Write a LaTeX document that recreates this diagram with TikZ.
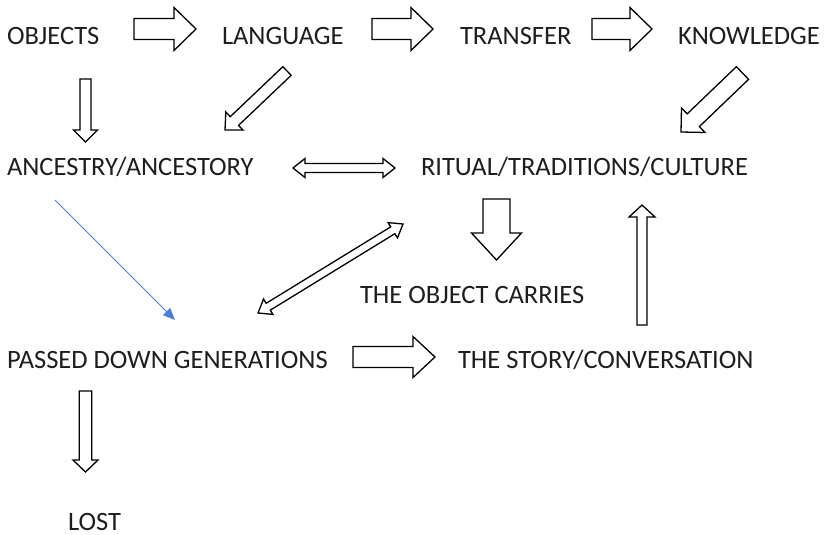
\documentclass[tikz,border=0pt]{standalone}
\usepackage{fontspec}
\setmainfont{Carlito}
\usetikzlibrary{calc,arrows.meta}
\definecolor{txt}{HTML}{1E1E1E}
\definecolor{lineblue}{HTML}{4A7ED6}
\newcommand{\blkarrow}[5]{% tail, tip, shaft half width, head half width, head length
  \coordinate (hb) at ($(#2)!#5!(#1)$);
  \draw[blk] ($(#1)!#3!90:(#2)$) -- ($(hb)!#3!90:(#2)$) -- ($(hb)!#4!90:(#2)$) -- (#2)
    -- ($(hb)!#4!-90:(#2)$) -- ($(hb)!#3!-90:(#2)$) -- ($(#1)!#3!-90:(#2)$) -- cycle;}
\newcommand{\dblarrow}[5]{% end, end, shaft half width, head half width, head length
  \coordinate (ha) at ($(#1)!#5!(#2)$);
  \coordinate (hb) at ($(#2)!#5!(#1)$);
  \draw[blk] (#1) -- ($(ha)!#4!90:(#2)$) -- ($(ha)!#3!90:(#2)$) -- ($(hb)!#3!90:(#2)$)
    -- ($(hb)!#4!90:(#2)$) -- (#2) -- ($(hb)!#4!-90:(#2)$) -- ($(hb)!#3!-90:(#2)$)
    -- ($(ha)!#3!-90:(#2)$) -- ($(ha)!#4!-90:(#2)$) -- cycle;}
\begin{document}
\begin{tikzpicture}[x=1pt,y=-1pt,
  lbl/.style={anchor=base west,inner sep=0pt,outer sep=0pt,text=txt,font=\fontsize{26.5}{31}\selectfont},
  blk/.style={draw=black,line width=1.3pt,line join=miter,fill=white},
  bluearrow/.style={draw=lineblue,line width=0.9pt,-{Triangle[length=12pt,width=10pt]}}]
\useasboundingbox (0,0) rectangle (824,535);
% labels
\node[lbl] (objects) at (7,45) {OBJECTS};
\node[lbl] (language) at (222,45) {LANGUAGE};
\node[lbl] (transfer) at (460,45) {TRANSFER};
\node[lbl] (knowledge) at (678,45) {KNOWLEDGE};
\node[lbl] (ancestry) at (7,175) {ANCESTRY/ANCESTORY};
\node[lbl] (ritual) at (421,175) {RITUAL/TRADITIONS/CULTURE};
\node[lbl] (carries) at (360,303) {THE OBJECT CARRIES};
\node[lbl] (passed) at (7,368) {PASSED DOWN GENERATIONS};
\node[lbl] (story) at (458,368) {THE STORY/CONVERSATION};
\node[lbl] (lost) at (68,530) {LOST};
% arrow end points
\coordinate (a1t) at (134,29);   \coordinate (a1h) at (196,29);
\coordinate (a2t) at (372,29);   \coordinate (a2h) at (433,29);
\coordinate (a3t) at (592,29);   \coordinate (a3h) at (652,29);
\coordinate (v1t) at (85.5,79);  \coordinate (v1h) at (85.5,142);
\coordinate (d1t) at (287,71);   \coordinate (d1h) at (225,130);
\coordinate (d2t) at (742.5,73); \coordinate (d2h) at (681,132);
\coordinate (h2a) at (293,168);  \coordinate (h2b) at (395,168);
\coordinate (v2t) at (496.5,199);\coordinate (v2h) at (496.5,260);
\coordinate (v3t) at (642,325);  \coordinate (v3h) at (642,205);
\coordinate (d3a) at (258,313);  \coordinate (d3b) at (403,224);
\coordinate (h3t) at (353,357);  \coordinate (h3h) at (435,357);
\coordinate (v4t) at (85.5,391); \coordinate (v4h) at (85.5,472);
\coordinate (bs) at (55,200);    \coordinate (be) at (175,320);
% block arrows
\blkarrow{a1t}{a1h}{10.5pt}{21.5pt}{22pt}
\blkarrow{a2t}{a2h}{10.5pt}{21.5pt}{22pt}
\blkarrow{a3t}{a3h}{10.5pt}{21.5pt}{22pt}
\blkarrow{v1t}{v1h}{5.5pt}{12pt}{12pt}
\blkarrow{d1t}{d1h}{6pt}{12.5pt}{13pt}
\blkarrow{d2t}{d2h}{8.8pt}{17pt}{17pt}
\dblarrow{h2a}{h2b}{4.5pt}{9.5pt}{12pt}
\blkarrow{v2t}{v2h}{13.5pt}{25pt}{27pt}
\blkarrow{v3t}{v3h}{5pt}{13pt}{12pt}
\dblarrow{d3a}{d3b}{4pt}{9pt}{12pt}
\blkarrow{h3t}{h3h}{10.5pt}{20.5pt}{22pt}
\blkarrow{v4t}{v4h}{6.3pt}{12.5pt}{12pt}
% blue arrow
\draw[bluearrow] (bs) -- (be);
\end{tikzpicture}
\end{document}
